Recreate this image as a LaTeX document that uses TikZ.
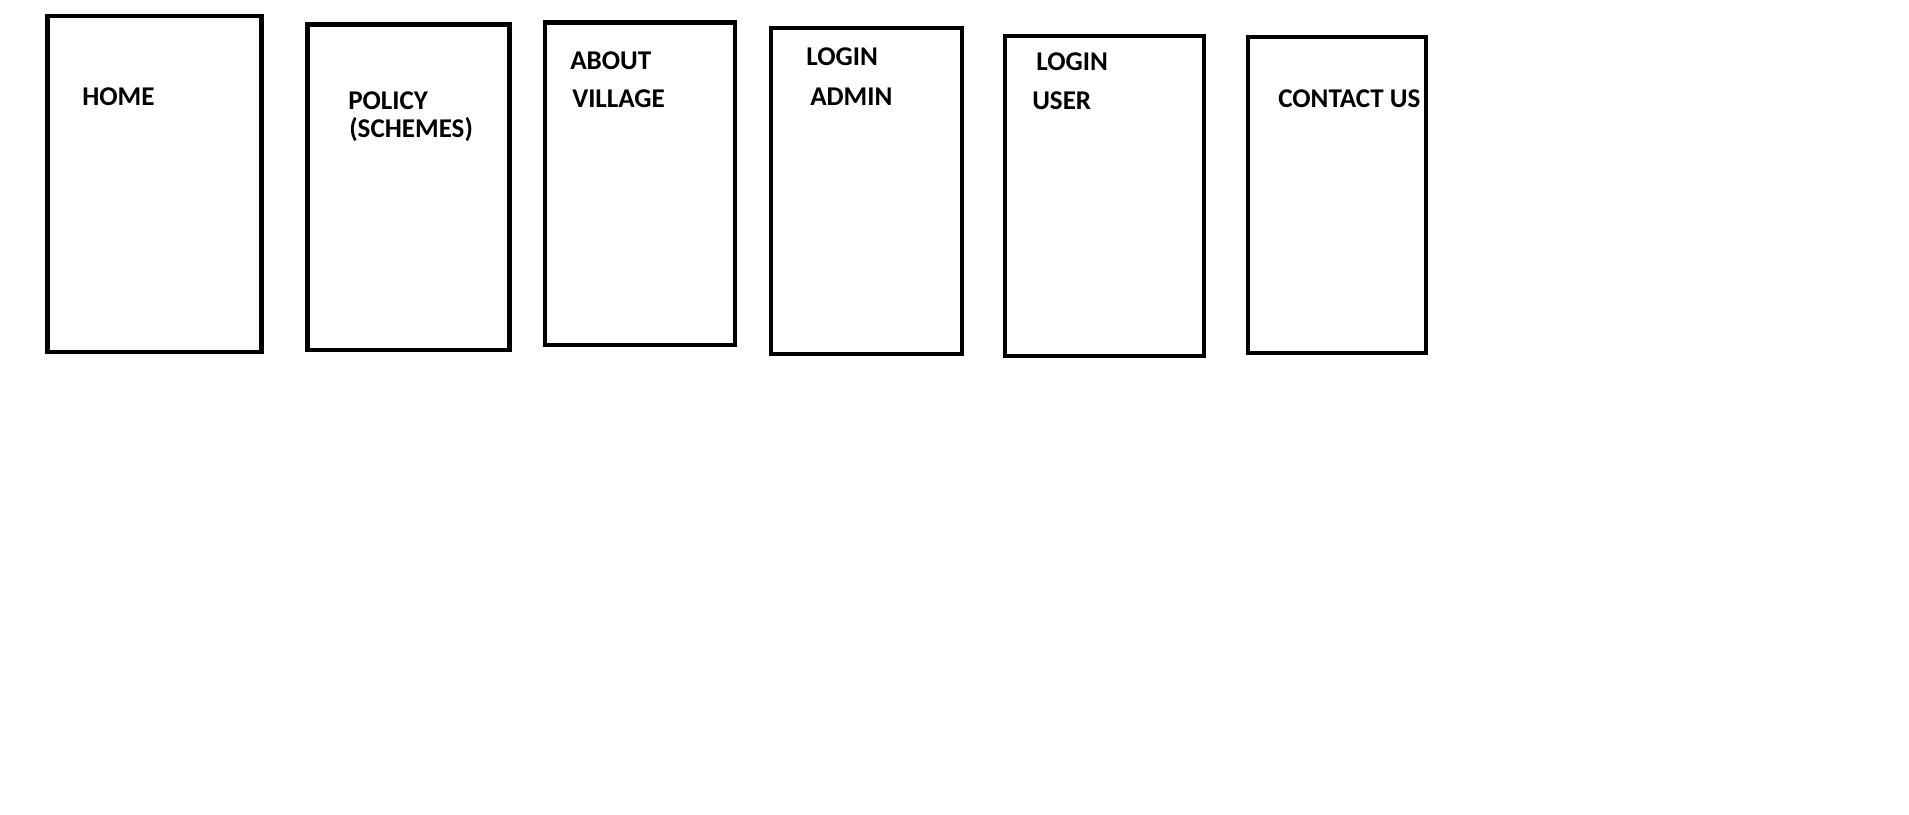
\documentclass[tikz,border=0pt]{standalone}
\usepackage{fontspec}
\setmainfont{Carlito}
\tikzset{every picture/.style={line width=3.4pt}}
\tikzset{pagebox/.style={draw=black,line join=miter},
  pagelabel/.style={anchor=base west,inner sep=0pt,font=\fontsize{20.3}{24}\selectfont\bfseries}}

\begin{document}
\begin{tikzpicture}[x=0.75pt,y=0.75pt,yscale=-1,xscale=1]
\path[use as bounding box] (0,0) rectangle (1909,814); %set diagram to 1909 x 814

%Shape: Rectangle [home]
\draw [pagebox] (47.5,15.8) rectangle (261.5,352) ;
%Shape: Rectangle [policy]
\draw [pagebox] (307.5,24.7) rectangle (509.5,350) ;
%Shape: Rectangle [about]
\draw [pagebox] (545,22.5) rectangle (735,345) ;
%Shape: Rectangle [admin]
\draw [pagebox] (771,28) rectangle (962,354) ;
%Shape: Rectangle [user]
\draw [pagebox] (1005,36) rectangle (1204,356) ;
%Shape: Rectangle [contact]
\draw [pagebox] (1248,37) rectangle (1426,353) ;

% Text Node
\node (home) [pagelabel] at (80,105) {HOME};
% Text Node
\node (policy) [pagelabel] at (346,109) {POLICY};
% Text Node
\node (schemes) [pagelabel] at (347,137) {(SCHEMES)};
% Text Node
\node (about) [pagelabel] at (568,69) {ABOUT};
% Text Node
\node (village) [pagelabel] at (570,107) {VILLAGE};
% Text Node
\node (loginadmin) [pagelabel] at (804,65) {LOGIN};
% Text Node
\node (admin) [pagelabel] at (808,105) {ADMIN};
% Text Node
\node (loginuser) [pagelabel] at (1034,70) {LOGIN};
% Text Node
\node (user) [pagelabel] at (1030,109) {USER};
% Text Node
\node (contact) [pagelabel] at (1276,107) {CONTACT US};

\end{tikzpicture}
\end{document}
